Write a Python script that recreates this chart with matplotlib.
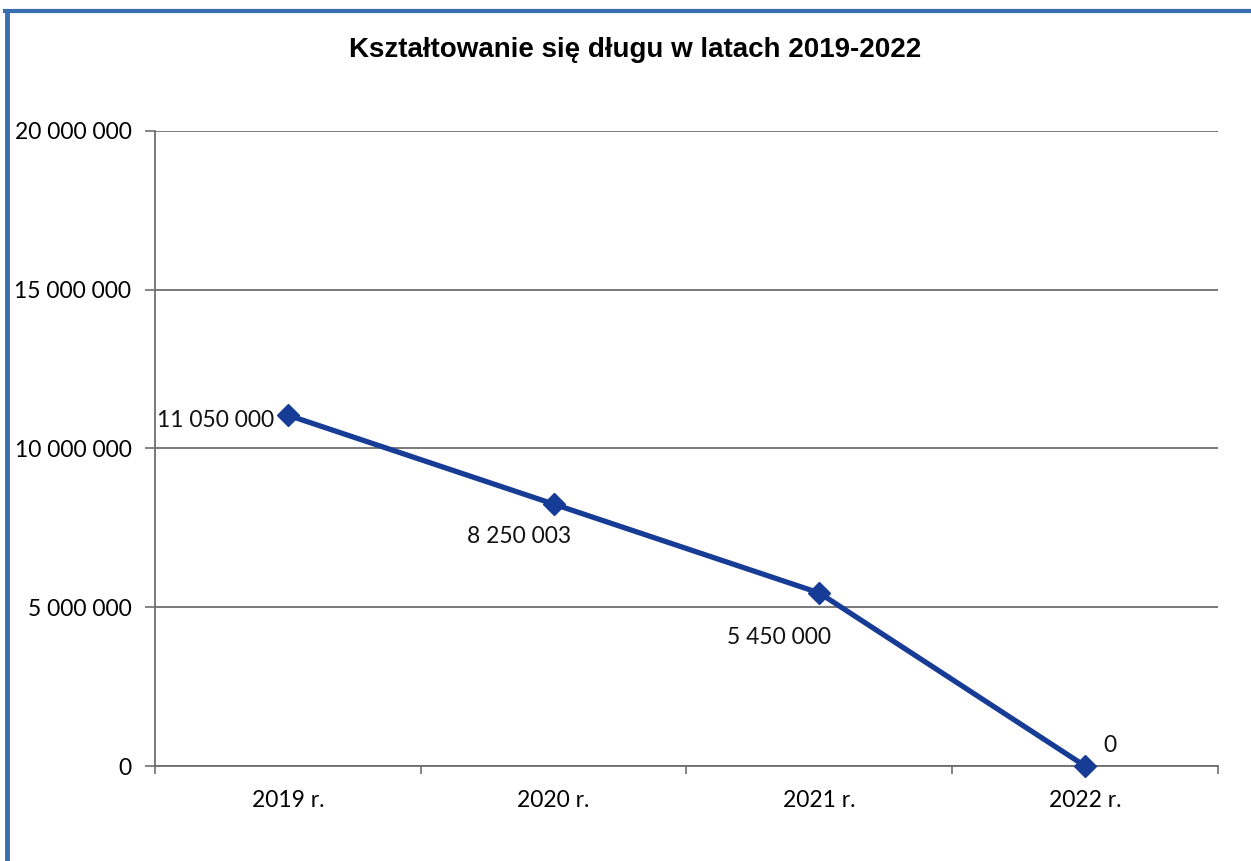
import numpy as np
import matplotlib.pyplot as plt
from matplotlib.lines import Line2D

lata = ['2019 r.', '2020 r.', '2021 r.', '2022 r.']
dlug = [11050000, 8250003, 5450000, 0]
etykiety = ['11 050 000', '8 250 003', '5 450 000', '0']
y_ticks = [0, 5000000, 10000000, 15000000, 20000000]

def formatuj(v):
    return f'{int(v):,}'.replace(',', ' ')

plt.rcParams['font.family'] = ['Lato', 'DejaVu Sans']
rozmiar = 16.5

fig = plt.figure(figsize=(12.51, 8.61), dpi=100)
ax = fig.add_axes([0.1239, 0.1103, 0.8497, 0.7376])

x = np.arange(1, len(lata) + 1)
ax.plot(x, dlug, color='#163c95', lw=3.8, marker='D', markersize=11,
        markerfacecolor='#163c95', markeredgecolor='#163c95', zorder=3,
        clip_on=False)

# etykiety danych - przesunięcia w punktach
przes = [(-52, -4), (-25, -23), (-29, -32), (18, 15)]
for xi, yi, t, (dx, dy) in zip(x, dlug, etykiety, przes):
    ax.annotate(t, (xi, yi), xytext=(dx, dy), textcoords='offset points',
                ha='center', va='center', fontsize=rozmiar, color='#111111')

ax.set_xlim(0.5, 4.5)
ax.set_ylim(0, 20000000)
ax.set_yticks(y_ticks)
ax.set_yticklabels([formatuj(v) for v in y_ticks])
ax.yaxis.grid(True, color='#6e6e6e', lw=1.3)
ax.set_axisbelow(True)

ax.set_xticks(np.arange(0.5, 4.6, 1.0))
ax.set_xticklabels([])
ax.set_xticks(x, minor=True)
ax.set_xticklabels(lata, minor=True)
ax.tick_params(axis='x', which='major', length=6, width=1.2, color='#6e6e6e', direction='out')
ax.tick_params(axis='x', which='minor', length=0, pad=17, labelsize=rozmiar)
ax.tick_params(axis='y', length=7, width=1.2, color='#6e6e6e', pad=10, labelsize=rozmiar)

for s in ['top', 'right']:
    ax.spines[s].set_visible(False)
for s in ['left', 'bottom']:
    ax.spines[s].set_color('#6e6e6e')
    ax.spines[s].set_linewidth(1.3)

fig.text(0.508, 0.942, 'Kształtowanie się długu w latach 2019-2022',
         ha='center', va='center', fontsize=20, fontweight='bold',
         family=['Liberation Sans', 'DejaVu Sans'])

# niebieska ramka (lewa i górna krawędź)
fig.add_artist(Line2D([0.0056, 0.0056], [0.0, 0.987], color='#3a6db0', lw=3.5))
fig.add_artist(Line2D([0.004, 1.0], [0.987, 0.987], color='#3a6db0', lw=3.0))

fig.savefig('out.png', dpi=100)
